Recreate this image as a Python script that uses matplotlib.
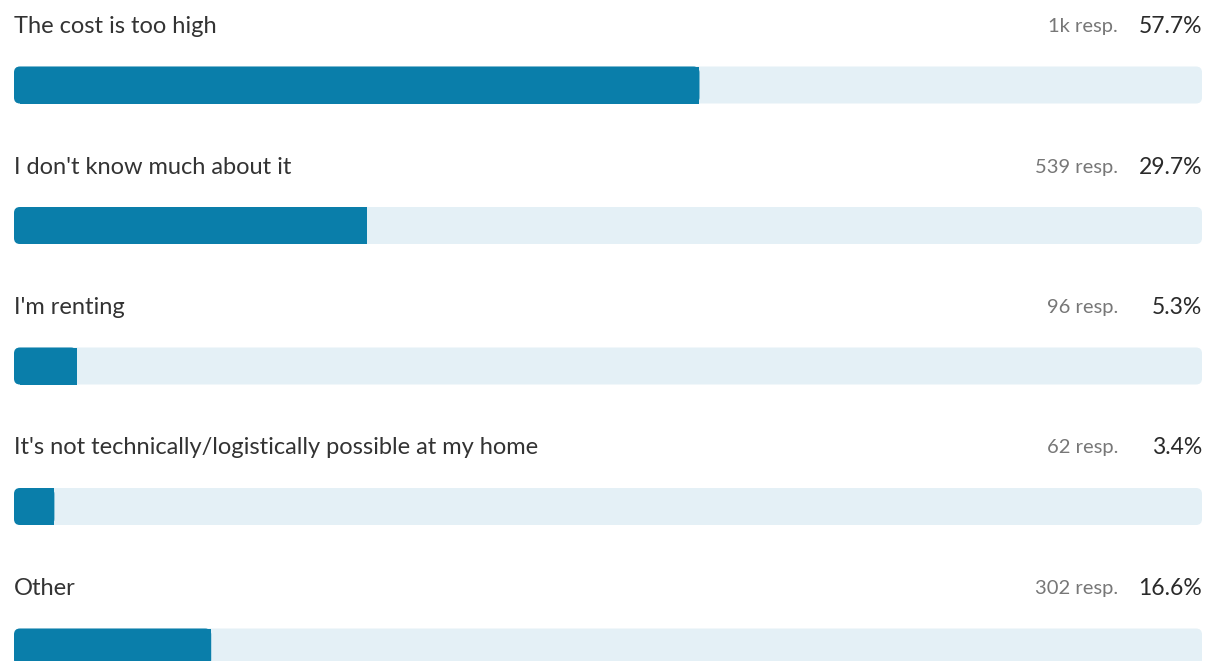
import matplotlib.pyplot as plt
from matplotlib.patches import FancyBboxPatch

# survey answers
labels = ["The cost is too high",
          "I don't know much about it",
          "I'm renting",
          "It's not technically/logistically possible at my home",
          "Other"]
responses = ["1k", "539", "96", "62", "302"]
percents = [57.7, 29.7, 5.3, 3.4, 16.6]

fill_color = "#0a7eaa"
track_color = "#e4f0f6"

plt.rcParams['font.family'] = ['Lato', 'DejaVu Sans']

fig = plt.figure(figsize=(12.25, 6.61), dpi=100)
ax = fig.add_axes([0, 0, 1, 1])

# 11.88 px per percent, 140.5 px per row
px_x = 11.88
px_y = 140.5
ax.set_xlim(-14 / px_x, (1225 - 14) / px_x)
ax.set_ylim((661 - 85) / px_y, -85 / px_y)
ax.axis("off")

bar_h = 37 / px_y
rad = 6 / px_x
aspect = (1 / px_y) / (1 / px_x)

for i, (lab, resp, pct) in enumerate(zip(labels, responses, percents)):
    # background track
    ax.add_patch(FancyBboxPatch((0, i - bar_h / 2), 100, bar_h,
                                boxstyle=f"round,pad=0,rounding_size={rad}",
                                mutation_aspect=aspect,
                                fc=track_color, ec="none"))
    # filled part
    ax.add_patch(FancyBboxPatch((0, i - bar_h / 2), pct, bar_h,
                                boxstyle=f"round,pad=0,rounding_size={rad}",
                                mutation_aspect=aspect,
                                fc=fill_color, ec="none"))
    ax.add_patch(plt.Rectangle((rad, i - bar_h / 2), pct - rad, bar_h,
                               fc=fill_color, ec="none"))

    ty = i - 58.5 / px_y
    txt = ax.text(0, ty, lab, fontsize=17, color="#333333", va="center", ha="left")
    txt.set_fontstretch("expanded")
    ax.text(100, ty, f"{pct:.1f}%", fontsize=16.5, color="#2a2a2a",
            va="center", ha="right")
    ax.text(100 - 84 / px_x, ty, f"{resp} resp.", fontsize=14.5, color="#777777",
            va="center", ha="right")

fig.savefig("out.png", dpi=100, facecolor="white")
